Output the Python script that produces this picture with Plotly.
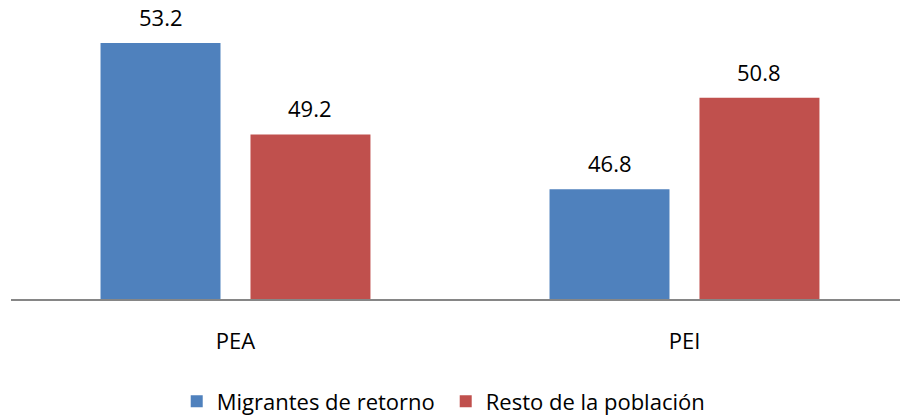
import plotly.graph_objects as go

# Población económicamente activa / inactiva (%)
categorias = ["PEA", "PEI"]
migrantes = [53.2, 46.8]
resto = [49.2, 50.8]
series = [
    ("Migrantes de retorno", migrantes, "#4F81BD"),
    ("Resto de la población", resto, "#C0504D"),
]

FONT = "Open Sans"
SIZE = 22
fig = go.Figure()
for nombre, valores, color in series:
    fig.add_trace(go.Bar(
        x=categorias, y=valores, name=nombre,
        marker=dict(color=color, line=dict(width=0)),
        hoverinfo="skip",
    ))

# value labels above each bar
offset = 0.167
annotations = []
for k, (nombre, valores, color) in enumerate(series):
    dx = -offset if k == 0 else offset
    for i, v in enumerate(valores):
        annotations.append(dict(
            x=i + dx, y=v, xref="x", yref="y",
            text=f"{v:.1f}", showarrow=False,
            yanchor="bottom", yshift=9,
            font=dict(family=FONT, size=SIZE, color="#000000"),
        ))

fig.update_layout(
    width=900, height=417,
    margin=dict(l=11, r=0, t=0, b=118, autoexpand=False),
    paper_bgcolor="white", plot_bgcolor="white",
    barmode="group", bargap=0.332, bargroupgap=0.2,
    font=dict(family=FONT, size=SIZE, color="#000000"),
    annotations=annotations,
    showlegend=True,
    legend=dict(
        orientation="h", x=0.489, xanchor="center", y=-0.343, yanchor="middle",
        font=dict(family=FONT, size=SIZE, color="#000000"),
        itemsizing="constant", entrywidth=224, entrywidthmode="pixels",
    ),
    xaxis=dict(
        range=[-0.5, 1.48], showline=True, linecolor="#868686", linewidth=1.5,
        ticks="", showgrid=False, zeroline=False, ticklabelstandoff=22,
        automargin=False,
        tickfont=dict(family=FONT, size=SIZE, color="#000000"),
    ),
    yaxis=dict(
        range=[42, 55.08], visible=False, showgrid=False, zeroline=False,
        automargin=False,
    ),
)

fig.write_html("out.html")
